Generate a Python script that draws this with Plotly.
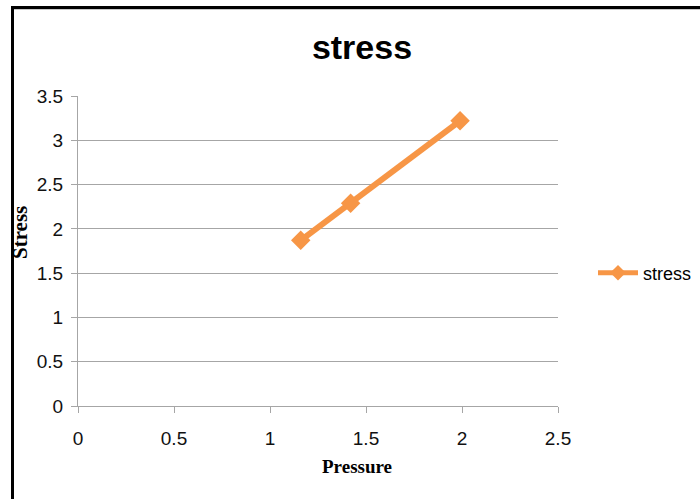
import plotly.graph_objects as go

# Measured stress against applied pressure
pressure = [1.16, 1.42, 1.99]
stress = [1.87, 2.29, 3.22]
series_name = "stress"

x_ticks = [0, 0.5, 1, 1.5, 2, 2.5]
y_ticks = [0, 0.5, 1, 1.5, 2, 2.5, 3, 3.5]

W, H = 700, 499
ML, MR, MT, MB = 78, 142, 96, 93
PW, PH = W - ML - MR, H - MT - MB


def px_to_paper_x(px):
    return (px - ML) / PW


def px_to_paper_y(py):
    return (H - MB - py) / PH


orange = "#F79646"
grid = "#A6A6A6"

fig = go.Figure()
fig.add_trace(go.Scatter(
    x=pressure, y=stress, name=series_name, mode="lines+markers",
    line=dict(color=orange, width=6),
    marker=dict(symbol="diamond", size=15, color=orange),
))

fig.update_layout(
    width=W, height=H,
    margin=dict(l=ML, r=MR, t=MT, b=MB, autoexpand=False),
    paper_bgcolor="white", plot_bgcolor="white",
    font=dict(family="Liberation Sans, Arial, sans-serif", color="#111111"),
    title=dict(text="<b>stress</b>", font=dict(size=34, color="#000000"),
               xref="container", yref="container",
               x=362 / W, y=1 - 47 / H, xanchor="center", yanchor="middle"),
    showlegend=True,
    legend=dict(x=px_to_paper_x(593), y=px_to_paper_y(273),
                xanchor="left", yanchor="middle",
                itemwidth=40, itemsizing="constant",
                font=dict(size=18, color="#000000"),
                bgcolor="rgba(0,0,0,0)"),
    xaxis=dict(range=[0, 2.5], tickvals=x_ticks,
               ticktext=[f"{v:g}" for v in x_ticks],
               showgrid=False, zeroline=False,
               showline=True, linecolor=grid, linewidth=1,
               ticks="outside", ticklen=6, tickcolor=grid,
               tickfont=dict(size=19, color="#111111"), ticklabelstandoff=9),
    yaxis=dict(range=[0, 3.5], tickvals=y_ticks,
               ticktext=[f"{v:g}" for v in y_ticks],
               showgrid=True, gridcolor=grid, gridwidth=1,
               zeroline=False,
               showline=True, linecolor=grid, linewidth=1,
               ticks="outside", ticklen=6, tickcolor=grid,
               tickfont=dict(size=19, color="#111111"), ticklabelstandoff=4),
    annotations=[
        dict(text="<b>Pressure</b>", xref="paper", yref="paper",
             x=px_to_paper_x(357), y=px_to_paper_y(466),
             xanchor="center", yanchor="middle", showarrow=False,
             font=dict(family="Liberation Serif, Times New Roman, serif",
                       size=19, color="#000000")),
        dict(text="<b>Stress</b>", xref="paper", yref="paper",
             x=px_to_paper_x(20), y=px_to_paper_y(233), textangle=-90,
             xanchor="center", yanchor="middle", showarrow=False,
             font=dict(family="Liberation Serif, Times New Roman, serif",
                       size=21, color="#000000")),
    ],
    shapes=[
        # outer frame around the chart area
        dict(type="line", xref="paper", yref="paper",
             x0=px_to_paper_x(12.5), x1=px_to_paper_x(705),
             y0=px_to_paper_y(7.5), y1=px_to_paper_y(7.5),
             line=dict(color="#000000", width=3)),
        dict(type="line", xref="paper", yref="paper",
             x0=px_to_paper_x(14), x1=px_to_paper_x(705),
             y0=px_to_paper_y(9.5), y1=px_to_paper_y(9.5),
             line=dict(color="#C8C8C8", width=1)),
        dict(type="line", xref="paper", yref="paper",
             x0=px_to_paper_x(12.5), x1=px_to_paper_x(12.5),
             y0=px_to_paper_y(6), y1=px_to_paper_y(505),
             line=dict(color="#000000", width=3)),
    ],
)

fig.write_html("out.html")
